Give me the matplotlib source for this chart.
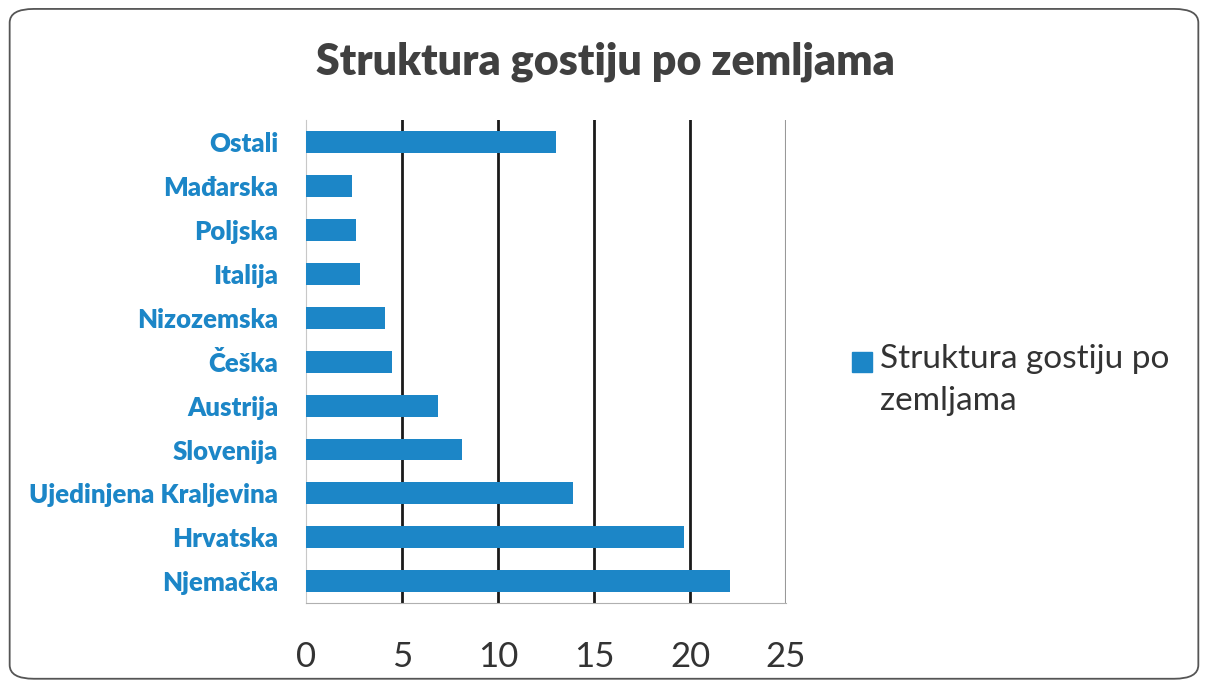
import matplotlib

matplotlib.use("Agg")
import matplotlib.pyplot as plt
from matplotlib.patches import FancyBboxPatch, Rectangle

countries = ["Njemačka", "Hrvatska", "Ujedinjena Kraljevina", "Slovenija", "Austrija",
             "Češka", "Nizozemska", "Italija", "Poljska", "Mađarska", "Ostali"]
shares = [22.1, 19.7, 13.9, 8.1, 6.9, 4.5, 4.1, 2.8, 2.6, 2.4, 13.0]
x_ticks = [0, 5, 10, 15, 20, 25]

title = "Struktura gostiju po zemljama"
series_name = "Struktura gostiju po\nzemljama"

BLUE = "#1c86c7"
plt.rcParams["font.family"] = ["Lato", "DejaVu Sans"]

fig = plt.figure(figsize=(12.08, 6.87), dpi=100)
fig.patch.set_facecolor("white")

# rounded chart border
fig.patches.append(FancyBboxPatch((0.008, 0.012), 0.984, 0.975,
                                  boxstyle="round,pad=0,rounding_size=0.02",
                                  transform=fig.transFigure, fill=False,
                                  edgecolor="#555555", linewidth=1.3))

ax = fig.add_axes([0.2533, 0.122, 0.3974, 0.703])
ax.barh(range(len(countries)), shares, height=0.5, color=BLUE, zorder=3)

ax.set_xlim(0, 25)
ax.set_ylim(-0.5, len(countries) - 0.5)
ax.set_xticks(x_ticks)
ax.set_xticklabels([str(t) for t in x_ticks])
ax.set_yticks(range(len(countries)))
ax.set_yticklabels(countries)

for t in x_ticks[1:-1]:
    ax.axvline(t, color="#1a1a1a", linewidth=2, zorder=2)
ax.axvline(25, color="#999999", linewidth=1.5, zorder=2)

for s in ["top", "right"]:
    ax.spines[s].set_visible(False)
ax.spines["left"].set_color("#c8c8c8")
ax.spines["bottom"].set_color("#b0b0b0")

ax.tick_params(axis="x", length=0, pad=27, labelsize=25, labelcolor="#333333")
ax.tick_params(axis="y", length=0, pad=20, labelsize=18.5, labelcolor=BLUE)
for lab in ax.get_yticklabels():
    lab.set_fontweight("heavy")

fig.text(605 / 1208, 0.91, title, ha="center", va="center", fontsize=31,
         fontweight="heavy", color="#404040")

# legend
fig.patches.append(Rectangle((852 / 1208, 1 - 372 / 687), 20 / 1208, 20 / 687,
                             transform=fig.transFigure, color=BLUE))
fig.text(880 / 1208, 1 - 344 / 687, series_name, ha="left", va="top",
         fontsize=24, color="#333333", linespacing=1.5)

fig.savefig("out.png", dpi=100)
